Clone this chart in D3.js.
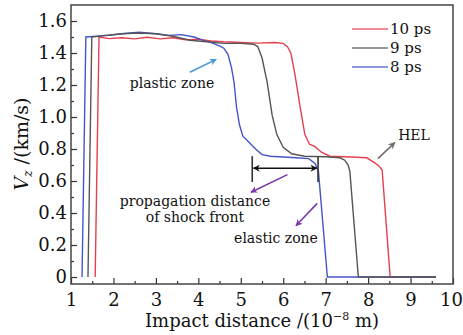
<!DOCTYPE html>
<html>
<head>
<meta charset="utf-8">
<script src="https://cdn.jsdelivr.net/npm/d3@7"></script>
<style>
  body { margin: 0; background: #fff; }
  text { font-family: "DejaVu Serif", serif; fill: #111; }
</style>
</head>
<body>
<svg id="chart" width="463" height="335"></svg>
<script>
// series: [impact distance (1e-8 m), Vz (km/s)]
var seriesNames = ["10 ps", "9 ps", "8 ps"];
var seriesColors = ["#e6404e", "#555555", "#4455c8"];

var ps10 = [[1.57,0],[1.66,1.50],[1.9,1.49],[2.2,1.495],[2.5,1.488],[2.8,1.498],[3.1,1.488],[3.4,1.495],
  [3.7,1.482],[4.0,1.486],[4.3,1.475],[4.6,1.47],[5.0,1.466],[5.4,1.462],[5.8,1.466],[6.0,1.46],
  [6.1,1.44],[6.18,1.40],[6.28,1.26],[6.40,1.06],[6.51,0.89],[6.62,0.83],[6.75,0.815],[6.9,0.78],
  [7.1,0.755],[7.6,0.75],[7.97,0.745],[8.12,0.72],[8.23,0.70],[8.33,0.67],[8.52,0],[9.6,0]];
var ps8 = [[1.26,0],[1.35,1.50],[1.6,1.505],[1.9,1.51],[2.2,1.52],[2.6,1.53],[3.0,1.52],[3.3,1.51],
  [3.6,1.515],[3.9,1.50],[4.1,1.48],[4.3,1.465],[4.5,1.445],[4.6,1.43],[4.7,1.39],[4.78,1.31],
  [4.84,1.22],[4.90,1.06],[4.97,0.95],[5.05,0.88],[5.2,0.84],[5.35,0.80],[5.5,0.765],[5.7,0.755],[6.0,0.75],
  [6.3,0.745],[6.6,0.74],[6.75,0.71],[6.83,0.66],[7.04,0],[9.6,0]];
var ps9 = [[1.40,0],[1.49,1.50],[1.8,1.51],[2.2,1.52],[2.6,1.525],[3.0,1.52],[3.4,1.505],[3.8,1.48],
  [4.2,1.47],[4.6,1.46],[5.0,1.46],[5.3,1.455],[5.4,1.44],[5.5,1.37],[5.62,1.22],[5.74,1.01],
  [5.85,0.89],[6.0,0.81],[6.2,0.77],[6.5,0.755],[7.0,0.752],[7.34,0.745],[7.45,0.73],[7.53,0.70],
  [7.57,0.66],[7.77,0],[9.6,0]];

var xTicks = [1, 2, 3, 4, 5, 6, 7, 8, 9, 10];
var xMinor = [1.5, 2.5, 3.5, 4.5, 5.5, 6.5, 7.5, 8.5, 9.5];
var yTicks = [0, 0.2, 0.4, 0.6, 0.8, 1.0, 1.2, 1.4, 1.6];
var yMinor = [0.1, 0.3, 0.5, 0.7, 0.9, 1.1, 1.3, 1.5];

var svg = d3.select("#chart");
var pL = 71, pR = 453, pT = 5, pB = 284;

var x = d3.scaleLinear().domain([1, 10]).range([pL, pR]);
var y = d3.scaleLinear().domain([-7 / 160, 1.7]).range([pB, pT]);

// axes, ticks point inward
var xg = svg.append("g").attr("transform", "translate(0," + pB + ")")
  .call(d3.axisBottom(x).tickValues(xTicks).tickSize(-6).tickPadding(9).tickFormat(d3.format("d")));
svg.append("g").attr("transform", "translate(0," + pB + ")")
  .call(d3.axisBottom(x).tickValues(xMinor).tickSize(-3).tickFormat(""));
svg.append("g").attr("transform", "translate(" + pL + ",0)")
  .call(d3.axisLeft(y).tickValues(yTicks).tickSize(-6).tickPadding(4)
    .tickFormat(function(d) { return d === 0 ? "0" : d.toFixed(1); }));
svg.append("g").attr("transform", "translate(" + pL + ",0)")
  .call(d3.axisLeft(y).tickValues(yMinor).tickSize(-3).tickFormat(""));

svg.selectAll(".domain").remove();
svg.selectAll(".tick line").attr("stroke", "#333").attr("stroke-width", 1.2);
svg.selectAll(".tick text").attr("font-size", 18).attr("fill", "#111")
  .style("font-family", "'DejaVu Serif', serif");
// keep the last x label inside the window
xg.selectAll(".tick text").filter(function(d) { return d === 10; }).attr("dx", -2);

svg.append("rect")
  .attr("x", pL).attr("y", pT)
  .attr("width", pR - pL).attr("height", pB - pT)
  .attr("fill", "none").attr("stroke", "#444").attr("stroke-width", 1.5);

// curves
var line = d3.line().x(function(d) { return x(d[0]); }).y(function(d) { return y(d[1]); });
var drawOrder = [[ps10, 0], [ps8, 2], [ps9, 1]];
drawOrder.forEach(function(s) {
  svg.append("path").datum(s[0])
    .attr("d", line)
    .attr("fill", "none")
    .attr("stroke", seriesColors[s[1]])
    .attr("stroke-width", 1.4);
});

// legend
var legend = svg.append("g");
seriesNames.forEach(function(n, i) {
  var ly = 29 + i * 19;
  legend.append("line").attr("x1", 352).attr("x2", 388).attr("y1", ly).attr("y2", ly)
    .attr("stroke", seriesColors[i]).attr("stroke-width", 1.4).attr("opacity", 0.8);
  legend.append("text").attr("x", 390).attr("y", ly + 5).attr("font-size", 15).text(n);
});

// arrow markers
var defs = svg.append("defs");
function marker(id, color) {
  defs.append("marker").attr("id", id)
    .attr("viewBox", "0 0 10 10").attr("refX", 9).attr("refY", 5)
    .attr("markerWidth", 7).attr("markerHeight", 7).attr("orient", "auto-start-reverse")
    .attr("markerUnits", "userSpaceOnUse")
    .append("path").attr("d", "M0,0L10,5L0,10L3,5Z").attr("fill", color);
}
marker("mBlue", "#4a98d6");
marker("mGray", "#707070");
marker("mPurple", "#7a3aa8");
marker("mBlack", "#111");

function arrow(x1, y1, x2, y2, color, id, both) {
  var a = svg.append("line")
    .attr("x1", x(x1)).attr("y1", y(y1)).attr("x2", x(x2)).attr("y2", y(y2))
    .attr("stroke", color).attr("stroke-width", 1.6)
    .attr("marker-end", "url(#" + id + ")");
  if (both) a.attr("marker-start", "url(#" + id + ")");
}

arrow(3.8, 1.28, 4.42, 1.36, "#4a98d6", "mBlue");
arrow(8.23, 0.74, 8.63, 0.84, "#707070", "mGray");
arrow(6.1, 0.64, 5.24, 0.53, "#7a3aa8", "mPurple");
arrow(6.8, 0.46, 6.3, 0.32, "#7a3aa8", "mPurple");
arrow(5.3, 0.68, 6.79, 0.68, "#111", "mBlack", true);
[5.27, 6.82].forEach(function(v) {
  svg.append("line").attr("x1", x(v)).attr("x2", x(v)).attr("y1", y(0.755)).attr("y2", y(0.594))
    .attr("stroke", "#333").attr("stroke-width", 1.6);
});

var notes = [
  { t: "plastic zone", x: 172, y: 88 },
  { t: "HEL", x: 414, y: 140 },
  { t: "propagation distance", x: 195, y: 206 },
  { t: "of shock front", x: 195, y: 222 },
  { t: "elastic zone", x: 276, y: 243 }
];
svg.selectAll(".note").data(notes).enter().append("text")
  .attr("class", "note")
  .attr("x", function(d) { return d.x; }).attr("y", function(d) { return d.y; })
  .attr("text-anchor", "middle").attr("font-size", 14)
  .text(function(d) { return d.t; });

// axis titles
var xt = svg.append("text").attr("x", 262).attr("y", 327)
  .attr("text-anchor", "middle").attr("font-size", 18);
xt.append("tspan").text("Impact distance /(10");
xt.append("tspan").attr("dy", -7).attr("font-size", 11).text("\u22128");
xt.append("tspan").attr("dy", 7).text(" m)");

var yt = svg.append("text").attr("transform", "translate(28,144) rotate(-90)")
  .attr("text-anchor", "middle").attr("font-size", 19);
yt.append("tspan").attr("font-style", "italic").text("V");
yt.append("tspan").attr("font-style", "italic").attr("font-size", 12).attr("dy", 4).text("z");
yt.append("tspan").attr("dy", -4).text(" /(km/s)");
</script>
</body>
</html>
